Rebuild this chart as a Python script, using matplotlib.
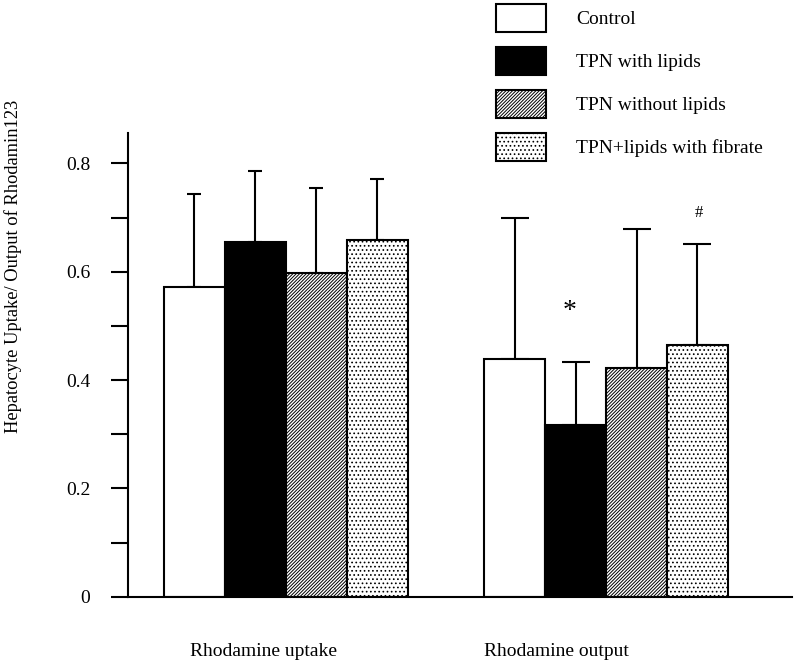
import numpy as np
import matplotlib
matplotlib.use('Agg')
import matplotlib.pyplot as plt

plt.rcParams['font.family'] = ['Liberation Serif', 'DejaVu Serif']
plt.rcParams['hatch.linewidth'] = 0.7

# values
groups = ['Rhodamine uptake', 'Rhodamine output']
series = ['Control', 'TPN with lipids', 'TPN without lipids', 'TPN+lipids with fibrate']
uptake = [0.572, 0.654, 0.598, 0.659]
uptake_err = [0.171, 0.131, 0.156, 0.112]
output = [0.439, 0.317, 0.422, 0.465]
output_err = [0.261, 0.117, 0.256, 0.187]
yticks = [0, 0.1, 0.2, 0.3, 0.4, 0.5, 0.6, 0.7, 0.8]
ytick_labels = ['0', '', '0.2', '', '0.4', '', '0.6', '', '0.8']

colors = ['white', 'black', 'white', 'white']
hatches = [None, None, '//////////', '....']

fig = plt.figure(figsize=(8, 6.64), dpi=100)
ax = fig.add_axes([0.1596, 0.1014, 0.8304, 0.6983])

offsets = [0, 5.25]
capsizes = [5, 10]
handles = []
for g, (vals, errs) in enumerate([(uptake, uptake_err), (output, output_err)]):
    x = np.arange(4) + offsets[g]
    for i in range(4):
        b = ax.bar(x[i], vals[i], width=1.0, color=colors[i], edgecolor='black',
                   linewidth=1.5, hatch=hatches[i], label=series[i], zorder=2)
        if g == 0:
            handles.append(b)
    ax.errorbar(x, vals, yerr=[np.zeros(4), errs], fmt='none', ecolor='black',
                elinewidth=1.5, capsize=capsizes[g], capthick=1.5, zorder=1)

# significance marks
ax.text(6.16, 0.526, '*', fontsize=20, ha='center', va='center')
ax.text(8.27, 0.709, '#', fontsize=12, ha='center', va='center')

ax.set_xlim(-1.095, 9.8)
ax.set_ylim(0, 0.856)
ax.spines['top'].set_visible(False)
ax.spines['right'].set_visible(False)
ax.spines['left'].set_linewidth(1.5)
ax.spines['bottom'].set_linewidth(1.5)

ax.set_yticks(yticks)
ax.set_yticklabels(ytick_labels)
ax.tick_params(axis='y', length=12, width=1.5, pad=15, labelsize=14)
ax.set_xticks([1.14, 5.94])
ax.set_xticklabels(groups)
ax.tick_params(axis='x', length=0, pad=33, labelsize=14)

fig.text(13 / 800, 0.5986, 'Hepatocyte Uptake/ Output of Rhodamin123',
         rotation=90, ha='center', va='center', fontsize=13.3)

fig.legend(handles=handles, labels=series, loc='upper left',
           bbox_to_anchor=(495.7 / 800, 1 - 4 / 664), frameon=False,
           fontsize=14, handlelength=2.6, handleheight=1.8, labelspacing=0.8,
           handletextpad=1.55, borderpad=0, borderaxespad=0)

fig.savefig('out.png', dpi=100)
